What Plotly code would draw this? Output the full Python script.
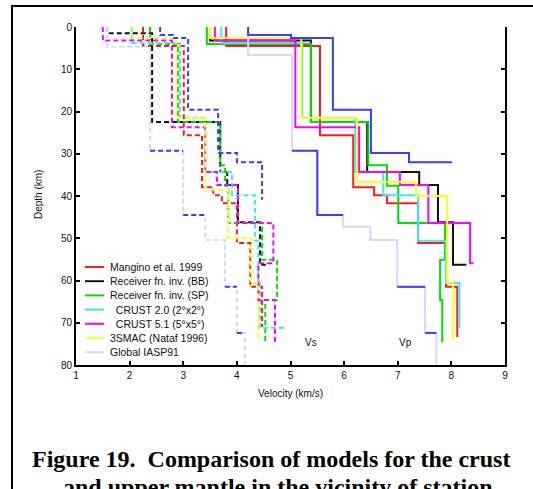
import plotly.graph_objects as go

# ------------------------------------------------------------------
# Layered velocity models: layer-top depths (km), layer velocities (km/s)
# and the depth where each profile ends. Optional "half" is the value the
# last horizontal step goes to at the model base.
# ------------------------------------------------------------------
names = [
    "Mangino et al. 1999",
    "Receiver fn. inv. (BB)",
    "Receiver fn. inv. (SP)",
    "  CRUST 2.0 (2\u00b0x2\u00b0)",
    "  CRUST 5.1 (5\u00b0x5\u00b0)",
    "3SMAC (Nataf 1996)",
    "Global IASP91",
]
colors = ["#ff1a1a", "#111111", "#00e000", "#3fe6f5", "#ff00ff", "#ffff1a", "#d6d6ff"]

# red model
red_vp_top = [0, 4.5, 25.6, 37.9, 39.8, 41.7, 51.1, 61.5]
red_vp = [3.80, 5.55, 6.17, 6.56, 6.80, 7.38, 7.90, 8.11]
red_vp_base = 73.4
red_vs_top = [0, 4.5, 25.6, 37.9, 39.8, 41.7, 51.1, 61.5]
red_vs = [2.25, 3.01, 3.35, 3.56, 3.72, 4.00, 4.25, 4.47]
red_vs_base = 71.0

# black model
black_vp_top = [0, 3.2, 22.5, 34.3, 37.4, 46.2]
black_vp = [3.50, 5.38, 6.43, 7.40, 7.75, 8.03]
black_vp_base, black_vp_half = 56.3, 8.28
black_vs_top = [0, 1.5, 22.5, 34.3, 37.4, 46.2]
black_vs = [1.58, 2.42, 3.69, 3.82, 4.02, 4.43]
black_vs_base, black_vs_half = 56.3, 4.54

# green model
green_vp_top = [0, 4.0, 22.5, 32.7, 37.6, 46.4, 55.1, 64.6]
green_vp = [3.44, 5.38, 6.45, 6.80, 7.01, 7.88, 7.79, 7.83]
green_vp_base = 74.6
green_vs_top = [0, 4.0, 22.5, 32.7, 37.6, 46.4, 55.1, 64.6]
green_vs = [2.38, 2.90, 3.69, 3.78, 3.84, 4.47, 4.75, 4.53]
green_vs_base = 74.6

# cyan model
cyan_vp_top = [0, 3.8, 21.5, 34.3, 39.8, 50.6, 60.6]
cyan_vp = [3.71, 5.22, 6.21, 6.73, 7.38, 7.90, 8.15]
cyan_vp_base = 71.2
cyan_vs_top = [0, 3.8, 21.5, 34.3, 39.8, 50.6, 60.6]
cyan_vs = [2.04, 2.94, 3.41, 3.91, 4.34, 4.40, 4.43]
cyan_vs_base, cyan_vs_half = 71.2, 4.90

# magenta model
magenta_vp_top = [0, 3.2, 23.7, 34.3, 37.4, 46.4]
magenta_vp = [3.59, 5.09, 6.28, 7.04, 7.57, 8.35]
magenta_vp_base, magenta_vp_half = 55.9, 8.41
magenta_vs_top = [0, 3.2, 23.7, 34.3, 37.4, 46.4, 55.9, 64.6]
magenta_vs = [1.50, 2.79, 3.41, 3.63, 4.02, 4.68, 4.40, 4.71]
magenta_vs_base = 74.8

# yellow model
yellow_vp_top = [0, 2.6, 21.5, 36.7, 40.0, 60.4]
yellow_vp = [3.50, 5.20, 6.24, 7.34, 7.92, 8.03]
yellow_vp_base = 74.0
yellow_vs_top = [0, 2.6, 21.5, 38.6, 50.0, 60.6]
yellow_vs = [2.06, 2.87, 3.41, 3.84, 4.26, 4.40]
yellow_vs_base = 74.0

# lavender (global reference) model
lav_vp_top = [0, 6.6, 29.3, 44.5, 47.3, 50.4, 61.5, 72.4]
lav_vp = [4.21, 5.03, 5.50, 5.98, 6.49, 6.99, 7.51, 7.72]
lav_vp_base = 80.0
lav_vs_top = [0, 4.7, 29.3, 44.5, 50.4, 61.5, 72.4]
lav_vs = [1.58, 2.38, 3.00, 3.41, 3.78, 4.00, 4.15]
lav_vs_base = 80.0
# interfaces of the reference model highlighted in blue
lav_vp_marked = [61.5, 72.4]
lav_vs_marked = [29.3, 44.5, 61.5, 72.4]
lav_vp_span = (29.3, 44.5)

# blue model
blue_vp_top = [0, 1.9, 2.6, 19.6, 29.8]
blue_vp = [4.21, 5.01, 5.79, 6.50, 7.21]
blue_vp_base, blue_vp_half = 32.0, 8.01
blue_vs_top = [0, 1.9, 2.6, 19.6, 29.8, 32.0]
blue_vs = [2.57, 2.81, 3.09, 3.65, 4.00, 4.47]
blue_vs_base = 40.9
blue_color = "#3c3cff"

x_ticks = [1, 2, 3, 4, 5, 6, 7, 8, 9]
y_ticks = [0, 10, 20, 30, 40, 50, 60, 70, 80]


def step_profile(tops, vals, base, half=None):
    xs, ys = [], []
    bottoms = list(tops[1:]) + [base]
    for v, t, b in zip(vals, tops, bottoms):
        xs += [v, v]
        ys += [t, b]
    if half is not None:
        xs.append(half)
        ys.append(base)
    return xs, ys


def interface_bars(tops, vals, depths):
    xs, ys = [], []
    for d in depths:
        k = tops.index(d)
        xs += [vals[k - 1], vals[k], None]
        ys += [d, d, None]
    return xs, ys


def profile_span(tops, vals, base, d0, d1):
    bottoms = list(tops[1:]) + [base]
    i0 = tops.index(d0)
    xs, ys = [vals[i0 - 1]], [d0]
    for v, t, b in zip(vals, tops, bottoms):
        if t >= d0 and b <= d1:
            xs += [v, v]
            ys += [t, b]
    i1 = tops.index(d1)
    xs.append(vals[i1])
    ys.append(d1)
    return xs, ys


fig = go.Figure()

DASH = "5px,3px"


def add_line(xs, ys, color, dashed, width=2.0):
    fig.add_trace(go.Scatter(
        x=xs, y=ys, mode="lines", showlegend=False, hoverinfo="skip",
        line=dict(color=color, width=width, dash=DASH if dashed else "solid"),
    ))


models = [
    (red_vp_top, red_vp, red_vp_base, None, red_vs_top, red_vs, red_vs_base, None),
    (black_vp_top, black_vp, black_vp_base, black_vp_half,
     black_vs_top, black_vs, black_vs_base, black_vs_half),
    (green_vp_top, green_vp, green_vp_base, None, green_vs_top, green_vs, green_vs_base, None),
    (cyan_vp_top, cyan_vp, cyan_vp_base, None, cyan_vs_top, cyan_vs, cyan_vs_base, cyan_vs_half),
    (magenta_vp_top, magenta_vp, magenta_vp_base, magenta_vp_half,
     magenta_vs_top, magenta_vs, magenta_vs_base, None),
    (yellow_vp_top, yellow_vp, yellow_vp_base, None, yellow_vs_top, yellow_vs, yellow_vs_base, None),
    (lav_vp_top, lav_vp, lav_vp_base, None, lav_vs_top, lav_vs, lav_vs_base, None),
]

for (ptop, pv, pbase, phalf, stop, sv, sbase, shalf), color in zip(models, colors):
    add_line(*step_profile(ptop, pv, pbase, phalf), color, dashed=False)
    add_line(*step_profile(stop, sv, sbase, shalf), color, dashed=True)

# blue overlays on the reference model
add_line(*profile_span(lav_vp_top, lav_vp, lav_vp_base, *lav_vp_span), blue_color, dashed=False)
add_line(*interface_bars(lav_vp_top, lav_vp, lav_vp_marked), blue_color, dashed=False)
add_line(*interface_bars(lav_vs_top, lav_vs, lav_vs_marked), blue_color, dashed=True)

# blue model
add_line(*step_profile(blue_vp_top, blue_vp, blue_vp_base, blue_vp_half), blue_color, dashed=False)
add_line(*step_profile(blue_vs_top, blue_vs, blue_vs_base), blue_color, dashed=True)

# ------------------------------------------------------------------
# hand-built legend (compact rows) in the lower-left of the axes
# ------------------------------------------------------------------
L, T, W, H = 76, 27, 429, 338  # plot area in pixels


def px(xp):
    return (xp - L) / W


def py(yp):
    return (T + H - yp) / H


shapes = []
annotations = []
row0, row_gap = 267, 14.2
for i, (name, color) in enumerate(zip(names, colors)):
    yy = py(row0 + i * row_gap)
    shapes.append(dict(type="line", xref="paper", yref="paper",
                       x0=px(85), x1=px(104), y0=yy, y1=yy,
                       line=dict(color=color, width=2)))
    annotations.append(dict(text=name, xref="paper", yref="paper", x=px(108), y=yy,
                            xanchor="left", yanchor="middle", showarrow=False,
                            font=dict(family="Liberation Sans, Arial", size=10.5, color="#111")))

# Vs / Vp group labels
annotations.append(dict(text="Vs", x=5.38, y=74.6, xref="x", yref="y", showarrow=False,
                        font=dict(family="Liberation Sans, Arial", size=10, color="#111")))
annotations.append(dict(text="Vp", x=7.14, y=74.6, xref="x", yref="y", showarrow=False,
                        font=dict(family="Liberation Sans, Arial", size=10, color="#111")))

# axis titles
annotations.append(dict(text="Depth (km)", xref="paper", yref="paper", x=px(38), y=py(195),
                        textangle=-90, showarrow=False, xanchor="center", yanchor="middle",
                        font=dict(family="Liberation Sans, Arial", size=10, color="#111")))
annotations.append(dict(text="Velocity (km/s)", xref="paper", yref="paper", x=px(290), y=py(393),
                        showarrow=False, xanchor="center", yanchor="middle",
                        font=dict(family="Liberation Sans, Arial", size=10, color="#111")))

# figure caption
cap_font = dict(family="Liberation Serif, Times New Roman, serif", size=24, color="#000")
annotations.append(dict(text="<b>Figure 19.  Comparison of models for the crust</b>",
                        xref="paper", yref="paper", x=px(271), y=py(459),
                        xanchor="center", yanchor="middle", showarrow=False, font=cap_font))
annotations.append(dict(text="<b>and upper mantle in the vicinity of station</b>",
                        xref="paper", yref="paper", x=px(278), y=py(487),
                        xanchor="center", yanchor="middle", showarrow=False, font=cap_font))

# page frame
shapes.append(dict(type="rect", xref="paper", yref="paper",
                   x0=px(12), x1=px(560), y0=py(520), y1=py(6),
                   line=dict(color="#000", width=2), fillcolor="rgba(0,0,0,0)", layer="below"))

tick_font = dict(family="Liberation Sans, Arial", size=10, color="#111")
fig.update_layout(
    width=533, height=489,
    margin=dict(l=L, r=533 - L - W, t=T, b=489 - T - H),
    paper_bgcolor="white", plot_bgcolor="white",
    showlegend=False,
    shapes=shapes, annotations=annotations,
    xaxis=dict(range=[1, 9], tickvals=x_ticks, ticktext=[str(v) for v in x_ticks],
               showgrid=False, zeroline=False, showline=True, linecolor="#000", linewidth=2,
               ticks="inside", ticklen=4, tickwidth=1.5, tickcolor="#000",
               tickfont=tick_font, mirror=False),
    yaxis=dict(range=[80, 0], tickvals=y_ticks, ticktext=[str(v) for v in y_ticks],
               showgrid=False, zeroline=False, showline=True, linecolor="#000", linewidth=2,
               ticks="inside", ticklen=4, tickwidth=1.5, tickcolor="#000",
               tickfont=tick_font, mirror="ticks"),
)

fig.write_html("out.html")
